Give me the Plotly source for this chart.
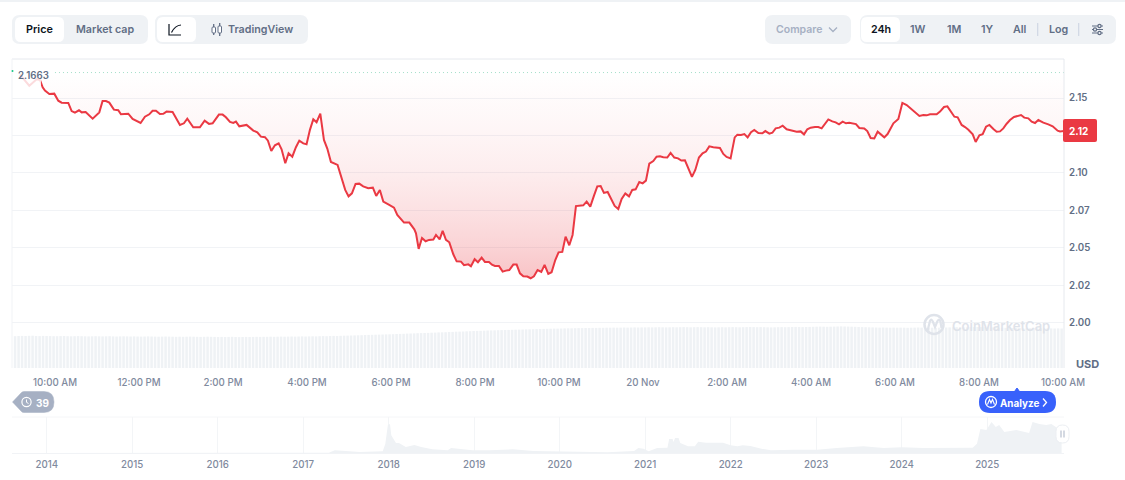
#!/usr/bin/env python3
"""XRP/USD 24h price panel with rolling volume bars and the all-time volume navigator."""
import plotly.graph_objects as go

W, H = 1125, 480
RED = "#ea3943"
GRID = "#f1f3f6"
PANEL = "#eff2f5"
GREY = "#616e85"
TICK = "#7f8a9e"
DARK = "#0d1421"

# minutes after 10:00 AM on 19 Nov, USD
MINUTES = [
    -50, -36.7, -26.2, -21.4, -17.6, -14.3, -8.1, -1, 4.7, 9.5, 19, 23.8, 28.5, 34.3, 38.1, 43.8,
    53.8, 63.3, 68, 72.8, 77.6, 84.2, 90.4, 94.2, 104.7, 110.9, 122.3, 128.5, 134.7, 139.4, 144.2,
    149.9, 154.7, 159.4, 168, 178.5, 184.2, 189, 197.5, 207, 213.8, 220, 225.2, 234.2, 239.5,
    244.2, 250, 254.7, 258.5, 263.3, 273.7, 283.3, 289, 294.2, 300, 304.2, 309, 314.2, 319.5,
    323.7, 329, 333.7, 339, 344.2, 349, 354.7, 359.4, 364.2, 369, 373.7, 379, 384.2, 389, 394.2,
    403.7, 409.4, 414.6, 419.4, 424.2, 429.4, 434.6, 440.3, 447.5, 454.1, 458.9, 464.1, 469,
    476.2, 484.3, 489, 498.6, 506.2, 513.3, 515.7, 519.5, 524.3, 529.5, 534.3, 540.5, 544.3,
    549.5, 553.8, 558.5, 563.3, 569, 573.8, 580, 584.3, 590.4, 594.2, 599.5, 604.2, 609.5, 614.2,
    620, 624.2, 628.5, 634.2, 639.5, 644.2, 649, 654.7, 659.5, 664.2, 669, 674.7, 679.5, 684.2,
    689.4, 694.7, 699.4, 704.7, 709.4, 714.7, 719.4, 724.7, 729.4, 734.7, 739.4, 744.2, 754.7,
    759.5, 764.7, 770, 774.7, 779.5, 784.2, 789.5, 794.2, 799.5, 804.7, 809.5, 814.7, 820, 824.7,
    829.5, 834.7, 839.5, 844.2, 849, 854.7, 859.4, 864.2, 869, 874.7, 879.4, 884.7, 890, 894.7,
    899.9, 909.9, 914.7, 919.9, 925.1, 929.9, 934.7, 940.4, 949.9, 954.7, 959.4, 965.1, 971,
    974.8, 980, 984.8, 989.5, 994.3, 999, 1004.8, 1010.5, 1014.8, 1020.5, 1024.8, 1029.5, 1034.7,
    1039.5, 1045.2, 1050, 1054.7, 1059.5, 1065.2, 1070, 1074.7, 1079.5, 1085.7, 1090.4, 1095.2,
    1104.7, 1110.4, 1115.2, 1120, 1125.2, 1130, 1134.7, 1144.2, 1149, 1156.1, 1160.4, 1165.2,
    1170.4, 1175.2, 1184.7, 1189.4, 1192.9, 1197.7, 1204.8, 1210.5, 1216.7, 1223.8, 1234.8,
    1240.5, 1245.3, 1250, 1259.5, 1264.3, 1270, 1274.8, 1280, 1284.8, 1289.5, 1295.2, 1300,
    1304.8, 1311, 1315.2, 1320.5, 1325.2, 1330, 1334.8, 1340.5, 1345.2, 1350, 1354.7, 1359.5,
    1364.3, 1370, 1375.2, 1380, 1384.7, 1390.4, 1395.2, 1400, 1404.7, 1411.9, 1419, 1425.2,
    1432.3, 1435.7, 1441.4,
]
PRICES = [
    2.1656, 2.1582, 2.1625, 2.1620, 2.1571, 2.1549, 2.1527, 2.1529, 2.1482, 2.1469, 2.1467, 2.1413,
    2.1402, 2.1418, 2.1404, 2.1406, 2.1362, 2.1404, 2.1480, 2.1480, 2.1469, 2.1422, 2.1418, 2.1391,
    2.1395, 2.1360, 2.1333, 2.1375, 2.1391, 2.1415, 2.1415, 2.1393, 2.1395, 2.1409, 2.1406, 2.1320,
    2.1331, 2.1362, 2.1304, 2.1304, 2.1349, 2.1327, 2.1331, 2.1389, 2.1389, 2.1371, 2.1340, 2.1333,
    2.1342, 2.1311, 2.1320, 2.1282, 2.1271, 2.1242, 2.1238, 2.1215, 2.1146, 2.1184, 2.1197, 2.1157,
    2.1064, 2.1131, 2.1108, 2.1171, 2.1215, 2.1197, 2.1191, 2.1287, 2.1358, 2.1338, 2.1396, 2.1220,
    2.1162, 2.1073, 2.1053, 2.0964, 2.0886, 2.0843, 2.0863, 2.0926, 2.0928, 2.0910, 2.0897, 2.0901,
    2.0846, 2.0886, 2.0808, 2.0790, 2.0768, 2.0719, 2.0668, 2.0668, 2.0623, 2.0596, 2.0492, 2.0565,
    2.0543, 2.0552, 2.0554, 2.0585, 2.0556, 2.0612, 2.0552, 2.0536, 2.0456, 2.0409, 2.0407, 2.0383,
    2.0389, 2.0376, 2.0423, 2.0403, 2.0434, 2.0405, 2.0405, 2.0387, 2.0378, 2.0378, 2.0340, 2.0347,
    2.0351, 2.0387, 2.0387, 2.0329, 2.0309, 2.0307, 2.0296, 2.0309, 2.0351, 2.0338, 2.0385, 2.0325,
    2.0336, 2.0418, 2.0469, 2.0472, 2.0574, 2.0516, 2.0585, 2.0778, 2.0783, 2.0808, 2.0774, 2.0848,
    2.0910, 2.0912, 2.0866, 2.0872, 2.0826, 2.0779, 2.0759, 2.0826, 2.0863, 2.0843, 2.0886, 2.0890,
    2.0939, 2.0930, 2.0948, 2.1062, 2.1079, 2.1108, 2.1111, 2.1104, 2.1102, 2.1133, 2.1102, 2.1097,
    2.1082, 2.1084, 2.0973, 2.1019, 2.1102, 2.1131, 2.1142, 2.1177, 2.1171, 2.1166, 2.1126, 2.1106,
    2.1097, 2.1237, 2.1255, 2.1253, 2.1259, 2.1237, 2.1271, 2.1286, 2.1266, 2.1264, 2.1279, 2.1262,
    2.1268, 2.1297, 2.1302, 2.1315, 2.1291, 2.1284, 2.1282, 2.1275, 2.1277, 2.1257, 2.1291, 2.1302,
    2.1306, 2.1306, 2.1297, 2.1357, 2.1344, 2.1337, 2.1324, 2.1342, 2.1331, 2.1335, 2.1326, 2.1300,
    2.1297, 2.1279, 2.1233, 2.1230, 2.1275, 2.1237, 2.1259, 2.1291, 2.1331, 2.1360, 2.1467, 2.1453,
    2.1426, 2.1380, 2.1386, 2.1384, 2.1391, 2.1391, 2.1409, 2.1440, 2.1444, 2.1409, 2.1375, 2.1371,
    2.1320, 2.1306, 2.1288, 2.1257, 2.1206, 2.1251, 2.1259, 2.1308, 2.1320, 2.1293, 2.1275, 2.1277,
    2.1297, 2.1328, 2.1353, 2.1373, 2.1382, 2.1386, 2.1369, 2.1364, 2.1342, 2.1333, 2.1353, 2.1335,
    2.1324, 2.1311, 2.1282, 2.1277, 2.1279,
]
OPEN_LEVEL = 2.167
OPEN_LABEL = "2.1663"
LAST_LABEL = "2.12"

# 24h rolling volume, USD billions, one bar per 5 minutes from 9:00 AM
VOLUME = [
    3.18, 3.20, 3.21, 3.20, 3.22, 3.23, 3.20, 3.19, 3.21, 3.20, 3.19, 3.18,
    3.18, 3.19, 3.20, 3.18, 3.17, 3.18, 3.19, 3.18, 3.17, 3.16, 3.17, 3.18,
    3.17, 3.16, 3.17, 3.18, 3.16, 3.15, 3.16, 3.17, 3.16, 3.15, 3.16, 3.15,
    3.14, 3.15, 3.16, 3.15, 3.14, 3.13, 3.14, 3.15, 3.14, 3.13, 3.12, 3.13,
    3.12, 3.13, 3.14, 3.13, 3.12, 3.11, 3.12, 3.13, 3.12, 3.11, 3.10, 3.11,
    3.10, 3.11, 3.12, 3.10, 3.09, 3.10, 3.11, 3.10, 3.11, 3.12, 3.11, 3.12,
    3.12, 3.13, 3.12, 3.13, 3.14, 3.13, 3.14, 3.15, 3.14, 3.15, 3.16, 3.15,
    3.16, 3.17, 3.16, 3.18, 3.19, 3.18, 3.20, 3.21, 3.20, 3.22, 3.23, 3.24,
    3.25, 3.26, 3.27, 3.28, 3.30, 3.31, 3.32, 3.33, 3.34, 3.35, 3.36, 3.37,
    3.38, 3.40, 3.41, 3.42, 3.44, 3.45, 3.46, 3.48, 3.49, 3.50, 3.51, 3.53,
    3.54, 3.56, 3.57, 3.58, 3.60, 3.61, 3.63, 3.64, 3.65, 3.67, 3.68, 3.70,
    3.71, 3.72, 3.73, 3.75, 3.76, 3.77, 3.78, 3.79, 3.80, 3.81, 3.82, 3.83,
    3.84, 3.85, 3.86, 3.87, 3.88, 3.89, 3.90, 3.91, 3.92, 3.93, 3.94, 3.94,
    3.95, 3.96, 3.97, 3.97, 3.98, 3.99, 3.99, 4.00, 4.00, 4.01, 4.01, 4.02,
    4.02, 4.03, 4.03, 4.04, 4.03, 4.04, 4.05, 4.04, 4.05, 4.06, 4.05, 4.06,
    4.06, 4.07, 4.06, 4.07, 4.08, 4.07, 4.06, 4.07, 4.08, 4.07, 4.08, 4.09,
    4.08, 4.07, 4.08, 4.09, 4.08, 4.07, 4.08, 4.07, 4.06, 4.07, 4.08, 4.07,
    4.08, 4.09, 4.08, 4.07, 4.08, 4.09, 4.10, 4.09, 4.08, 4.09, 4.08, 4.07,
    4.06, 4.07, 4.08, 4.09, 4.08, 4.09, 4.10, 4.11, 4.10, 4.09, 4.10, 4.11,
    4.12, 4.13, 4.14, 4.13, 4.12, 4.13, 4.14, 4.15, 4.16, 4.15, 4.14, 4.13,
    4.12, 4.10, 4.09, 4.08, 4.07, 4.06, 4.05, 4.04, 4.05, 4.04, 4.03, 4.04,
    4.03, 4.04, 4.03, 4.02, 4.03, 4.04, 4.05, 4.04, 4.03, 4.04, 4.03, 4.02,
    4.03, 4.04, 4.05, 4.06, 4.07, 4.08, 4.07, 4.06, 4.07, 4.08, 4.09, 4.10,
    4.09, 4.08, 4.07, 4.06, 4.05, 4.04, 4.03, 4.02, 4.01, 4.00, 4.00, 3.99,
    3.98, 3.97, 3.98, 3.99, 3.98, 3.97, 3.96, 3.97, 3.96, 3.95, 3.96, 3.95,
]

# all-time navigator
NAV_YEARS = [
    2013.6, 2017.3, 2017.37, 2017.47, 2017.66, 2017.93, 2017.96, 2017.99, 2018.015, 2018.03, 2018.085,
    2018.12, 2018.2, 2018.3, 2018.38, 2018.51, 2018.69, 2018.73, 2018.86, 2018.98, 2019.18, 2019.45,
    2019.69, 2019.92, 2020.24, 2020.56, 2020.87, 2020.92, 2020.98, 2021.04, 2021.14, 2021.26, 2021.28,
    2021.32, 2021.33, 2021.35, 2021.39, 2021.41, 2021.5, 2021.58, 2021.62, 2021.71, 2021.81, 2021.91,
    2022.0, 2022.08, 2022.14, 2022.23, 2022.36, 2022.47, 2022.74, 2023.01, 2023.24, 2023.55, 2023.79,
    2024.0, 2024.25, 2024.56, 2024.83, 2024.88, 2024.92, 2024.99, 2025.05, 2025.1, 2025.14, 2025.2,
    2025.34, 2025.49, 2025.53, 2025.61, 2025.69, 2025.75, 2025.82, 2025.87,
]
NAV_VOLUME = [
    0, 0.3, 2.7, 2, 1, 1.7, 9, 28, 29, 17.7, 10, 10, 6, 8, 6, 3.7, 2.7, 5, 4, 2.7, 2.7, 3.7, 2, 1.7, 0.8,
    0.8, 2, 5, 4.3, 1.7, 5, 5.3, 14, 14, 11, 15, 15, 10, 6.7, 6.7, 11.3, 10.3, 10.3, 10.3, 7.7, 6.7, 7.7,
    7, 4.3, 2.7, 3.3, 3.3, 5, 6.7, 5, 5.7, 5, 5, 5.3, 9.3, 24, 23, 31, 26, 28, 21, 23, 20, 31, 29, 28, 29,
    25, 25,
]

Y_TICKS = [2.15, 2.125, 2.10, 2.075, 2.05, 2.025, 2.00]
Y_LABELS = ["2.15", "", "2.10", "2.07", "2.05", "2.02", "2.00"]
X_TICKS = [0, 120, 240, 360, 480, 600, 720, 840, 960, 1080, 1200, 1320, 1440]
X_LABELS = ["10:00 AM", "12:00 PM", "2:00 PM", "4:00 PM", "6:00 PM", "8:00 PM", "10:00 PM",
            "20 Nov", "2:00 AM", "4:00 AM", "6:00 AM", "8:00 AM", "10:00 AM"]
NAV_TICKS = list(range(2014, 2026))


def px(x):
    return x / W


def py(y):
    return 1 - y / H


def rrect(x0, y0, x1, y1, r, fill, line=None):
    a, b, c, d = px(x0), px(x1), py(y0), py(y1)
    rx, ry = r / W, r / H
    path = (f"M{a + rx},{c} L{b - rx},{c} Q{b},{c} {b},{c - ry} L{b},{d + ry} Q{b},{d} {b - rx},{d} "
            f"L{a + rx},{d} Q{a},{d} {a},{d + ry} L{a},{c - ry} Q{a},{c} {a + rx},{c} Z")
    return dict(type="path", path=path, xref="paper", yref="paper", fillcolor=fill,
                line=dict(width=1 if line else 0, color=line or fill), layer="above")


def stroke(points, color, width=1.3):
    path = "M" + " L".join(f"{px(x)},{py(y)}" for x, y in points)
    return dict(type="path", path=path, xref="paper", yref="paper",
                line=dict(color=color, width=width), layer="above")


def curve(path_px, color, width=1.3, fill="rgba(0,0,0,0)"):
    # path given as tokens, numbers are pixel pairs
    out = []
    for tok in path_px.split():
        if tok[0].isalpha():
            out.append(tok)
        else:
            x, y = tok.split(",")
            out.append(f"{px(float(x))},{py(float(y))}")
    return dict(type="path", path=" ".join(out), xref="paper", yref="paper", fillcolor=fill,
                line=dict(color=color, width=width), layer="above")


def circle(cx, cy, r, fill="rgba(0,0,0,0)", line=GREY, width=1.2):
    return dict(type="circle", xref="paper", yref="paper", x0=px(cx - r), x1=px(cx + r),
                y0=py(cy + r), y1=py(cy - r), fillcolor=fill,
                line=dict(color=line, width=width), layer="above")


def label(x, y, text, size=10.7, color=GREY, weight=600, anchor="center"):
    return dict(x=px(x), y=py(y), xref="paper", yref="paper", text=text, showarrow=False,
                xanchor=anchor, yanchor="middle", align="center",
                font=dict(family="Inter", size=size, color=color, weight=weight))


fig = go.Figure()
fig.add_trace(go.Bar(x=[-57 + 5 * i for i in range(len(VOLUME))], y=VOLUME, width=3.6, yaxis="y2",
                     marker=dict(color=PANEL, line=dict(width=0)), hoverinfo="skip", showlegend=False))
# open level is the edge the red fill hangs from
fig.add_trace(go.Scatter(x=[MINUTES[0], MINUTES[-1]], y=[OPEN_LEVEL, OPEN_LEVEL], mode="lines",
                         line=dict(width=0), hoverinfo="skip", showlegend=False))
fig.add_trace(go.Scatter(x=MINUTES, y=PRICES, mode="lines", line=dict(color=RED, width=2),
                         fill="tonexty",
                         fillgradient=dict(type="vertical", start=OPEN_LEVEL, stop=2.03,
                                           colorscale=[[0, "rgba(234,57,67,0)"], [0.3, "rgba(234,57,67,0.05)"],
                                                       [0.48, "rgba(234,57,67,0.09)"], [0.67, "rgba(234,57,67,0.15)"],
                                                       [0.85, "rgba(234,57,67,0.22)"], [1, "rgba(234,57,67,0.30)"]]),
                         showlegend=False))
fig.add_trace(go.Scatter(x=[0, MINUTES[-1]], y=[OPEN_LEVEL, OPEN_LEVEL], mode="lines",
                         line=dict(color="#a3dfc8", width=1, dash="1px 3px"),
                         hoverinfo="skip", showlegend=False))
fig.add_trace(go.Scatter(x=NAV_YEARS, y=NAV_VOLUME, xaxis="x2", yaxis="y3", mode="lines", fill="tozeroy",
                         fillcolor=PANEL, line=dict(width=0), hoverinfo="skip", showlegend=False))

tickfont = dict(family="Inter", size=9.7, color=TICK, weight=500)
shapes = [
    dict(type="rect", xref="paper", yref="paper", x0=0, x1=1, y0=py(2), y1=1, fillcolor="#eff2f5",
         line=dict(width=0), layer="below"),
    # plot frame
    stroke([(12, 59), (1064, 59), (1064, 368)], "#e6e9ee", 1),
    stroke([(12, 59), (12, 368)], "#f1f3f6", 1),
    stroke([(12, 417), (1064, 417)], "#f5f6f8", 1),
    # fades the first stretch of the line behind the open label
    dict(type="rect", xref="paper", yref="paper", x0=px(13), x1=px(41), y0=py(90), y1=py(68),
         fillcolor="rgba(255,255,255,0.82)", line=dict(width=0), layer="above"),
    circle(12.5, 71, 1, fill="#16c784", line="#16c784", width=0),
    # price / market cap
    rrect(12, 15, 148, 44, 8, PANEL), rrect(15, 17, 64, 42, 6, "white"),
    # chart type
    rrect(155, 15, 308, 44, 8, PANEL), rrect(157, 17, 196, 42, 6, "white"),
    stroke([(169, 24), (169, 35), (181, 35)], DARK, 1.2),
    curve("M 171.5,32.5 Q 175,25.5 181,25", DARK, 1.2),
    rrect(212, 27, 215.5, 33, 1, "white", GREY), rrect(218, 26, 221.5, 33, 1, "white", GREY),
    stroke([(213.7, 24), (213.7, 27)], GREY), stroke([(213.7, 33), (213.7, 35)], GREY),
    stroke([(219.7, 23), (219.7, 26)], GREY), stroke([(219.7, 33), (219.7, 36)], GREY),
    # compare
    rrect(765, 15, 851, 44, 8, PANEL),
    stroke([(829, 27.5), (833, 31.5), (837, 27.5)], "#a6b0c3", 1.3),
    # range
    rrect(860, 15, 1116, 44, 8, PANEL), rrect(861, 17, 900, 42, 6, "white"),
    stroke([(1037.7, 23), (1037.7, 36)], "#cfd6e4", 1.2), stroke([(1078.7, 23), (1078.7, 36)], "#cfd6e4", 1.2),
    # settings icon
    stroke([(1092, 26), (1103, 26)], GREY, 1), stroke([(1092, 29.5), (1103, 29.5)], GREY, 1),
    stroke([(1092, 33), (1103, 33)], GREY, 1),
    circle(1099.5, 26, 1.6, fill=PANEL), circle(1095, 29.5, 1.6, fill=PANEL), circle(1099.5, 33, 1.6, fill=PANEL),
    # last price badge
    rrect(1063, 119, 1097, 142, 2, RED),
    # watermark
    circle(934, 324.5, 9.5, line="#dfe3ea", width=2.5),
    curve("M 927.5,331 L 930,321 Q 931.5,318 933,322 L 935,327 L 937.5,321 Q 939.5,318 940.5,322 L 941.5,328",
          "#dfe3ea", 2.2),
    # history badge
    curve("M 12.5,402 L 21,393 Q 22,391.5 24,391.5 L 44,391.5 Q 54,391.5 54,402 Q 54,412.5 44,412.5 "
          "L 24,412.5 Q 22,412.5 21,411 Z", "#a6b0c3", 0.5, fill="#a6b0c3"),
    circle(26.5, 402, 4.6, fill="#a6b0c3", line="white", width=1.2),
    stroke([(26.5, 399.5), (26.5, 402.3), (28.5, 403.5)], "white", 1),
    # analyze pill
    rrect(979, 391, 1056, 413, 11, "#3861fb"),
    curve("M 1014.5,391.5 L 1017,388 L 1019.5,391.5 Z", "#3861fb", 1, fill="#3861fb"),
    stroke([(1043, 398.5), (1046.5, 402.5), (1043, 406.5)], "white", 1.3),
    circle(991, 402, 5.5, fill="#3861fb", line="white", width=1.3),
    stroke([(987.5, 404.5), (989.5, 399.5), (991, 403), (992.5, 399.5), (994.5, 404.5)], "white", 1.1),
    # navigator handle
    rrect(1056, 425, 1069, 443, 6.5, "white", "#eceff3"),
    stroke([(1061, 430.5), (1061, 437.5)], "#b8c0cf", 1.2), stroke([(1064, 430.5), (1064, 437.5)], "#b8c0cf", 1.2),
]

annotations = [
    label(33.5, 75, OPEN_LABEL, 9.7, GREY, 600),
    label(39.5, 29.5, "Price", 10.8, DARK), label(105, 29.5, "Market cap"),
    label(260, 29.5, "TradingView"),
    label(799, 29.5, "Compare", 10.5, "#a6b0c3"),
    label(880.5, 29.5, "24h", 10.7, DARK), label(918, 29.5, "1W"), label(954, 29.5, "1M"),
    label(987.5, 29.5, "1Y"), label(1020, 29.5, "All"), label(1058, 29.5, "Log"),
    label(1078.5, 131, LAST_LABEL, 10, "white", 700),
    label(1087, 364, "USD", 11, GREY, 700),
    label(1001, 325.5, "CoinMarketCap", 13, "#dfe3ea", 600),
    label(42, 402.5, "39", 10, "white", 700),
    label(1019.5, 402.5, "Analyze", 9.9, "white", 700),
]

fig.update_layout(
    width=W, height=H, margin=dict(l=0, r=0, t=0, b=0), paper_bgcolor="white", plot_bgcolor="white",
    barmode="overlay", showlegend=False,
    xaxis=dict(domain=[px(12), px(1064)], range=[-61.4, 1441.4], anchor="y", tickmode="array", automargin=False,
               tickvals=X_TICKS, ticktext=X_LABELS, tickfont=tickfont, showgrid=False, zeroline=False,
               ticks="outside", ticklen=5, tickcolor="white", showline=False),
    yaxis=dict(domain=[py(368), py(59)], range=[1.96964, 2.17605], side="right", anchor="x", tickmode="array",
               tickvals=Y_TICKS, ticktext=Y_LABELS, automargin=False,
               tickfont=dict(family="Inter", size=9.7, color=GREY, weight=600),
               gridcolor=GRID, gridwidth=1, zeroline=False, ticks="outside", ticklen=2, tickcolor="white"),
    yaxis2=dict(domain=[py(368), py(59)], range=[0, 30.9], overlaying="y", side="left", anchor="x",
                visible=False, automargin=False),
    xaxis2=dict(domain=[px(12), px(1064)], range=[2013.594, 2025.898], anchor="y3", tickmode="array",
                tickvals=NAV_TICKS, ticktext=[str(y) for y in NAV_TICKS], tickfont=tickfont, automargin=False,
                gridcolor="#f3f5f7", gridwidth=1, zeroline=False, ticks="outside", ticklen=2, tickcolor="white",
                showline=True, linecolor="#f1f3f6", linewidth=1),
    yaxis3=dict(domain=[py(453), py(417)], range=[0, 36], anchor="x2", visible=False, automargin=False),
    shapes=shapes, annotations=annotations,
)
fig.write_html("out.html", config={"displayModeBar": False}, post_script="document.body.style.margin='0';")
